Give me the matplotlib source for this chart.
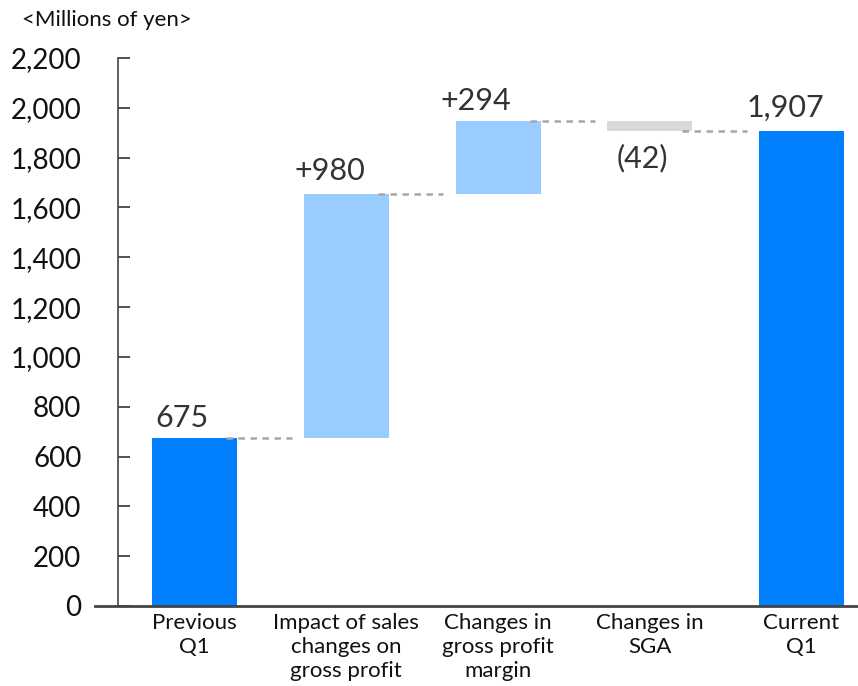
import numpy as np
import matplotlib
matplotlib.use('Agg')
import matplotlib.pyplot as plt

plt.rcParams['font.family'] = ['Lato', 'DejaVu Sans']

# waterfall data, millions of yen
categories = ['Previous\nQ1', 'Impact of sales\nchanges on\ngross profit',
              'Changes in\ngross profit\nmargin', 'Changes in\nSGA', 'Current\nQ1']
start_value = 675
changes = [980, 294, -42]
end_value = 1907
value_labels = ['675', '+980', '+294', '(42)', '1,907']
yticks = np.arange(0, 2201, 200)

dark_blue = '#0080FF'
light_blue = '#99CCFF'
gray_bar = '#D9D9D9'
text_col = '#333333'

# bottoms and heights of each bar
levels = [start_value]
for c in changes:
    levels.append(levels[-1] + c)
bottoms = [0]
heights = [start_value]
for i, c in enumerate(changes):
    bottoms.append(min(levels[i], levels[i + 1]))
    heights.append(abs(c))
bottoms.append(0)
heights.append(end_value)
colors = [dark_blue] + [light_blue if c > 0 else gray_bar for c in changes] + [dark_blue]

fig = plt.figure(figsize=(8.58, 6.86), dpi=100)
ax = fig.add_axes([95 / 858, 80 / 686, 763 / 858, 548 / 686])

x = np.arange(len(categories))
w = 0.56
ax.bar(x, heights, w, bottom=bottoms, color=colors, zorder=2)

# dashed connectors between bars
for i in range(len(categories) - 1):
    y = levels[i] if i < len(levels) else end_value
    ax.plot([x[i] + w / 2 - 0.07, x[i + 1] - w / 2 - 0.08], [y, y],
            color='#A6A6A6', lw=1.8, ls=(0, (2.6, 2.2)), zorder=3)

# value labels
label_x = [-0.26, 0.66, 1.62, 2.78, 3.64]
label_y = [700, 1690, 1970, 1740, 1945]
for i in range(len(categories)):
    ax.text(label_x[i], label_y[i], value_labels[i], fontsize=22,
            color=text_col, ha='left', va='bottom')

for s in ['top', 'right']:
    ax.spines[s].set_visible(False)
ax.spines['left'].set_position(('data', -0.507))
ax.spines['left'].set_color('#444444')
ax.spines['left'].set_linewidth(1.2)
ax.spines['bottom'].set_color('#444444')
ax.spines['bottom'].set_linewidth(2)

ax.set_xlim(-0.656, 4.372)
ax.set_ylim(0, 2200)
ax.set_yticks(yticks)
ax.set_yticklabels([f'{v:,}' for v in yticks])
ax.set_xticks(x)
ax.set_xticklabels(categories, linespacing=1.25)
ax.tick_params(axis='x', length=0, pad=5, labelsize=16, labelcolor='#111111')
ax.tick_params(axis='y', direction='in', length=8.5, width=1.2, color='#333333',
               pad=26, labelsize=20, labelcolor='#111111')

fig.text(22 / 858, 1 - 20 / 686, '<Millions of yen>', fontsize=16, color='#111111',
         ha='left', va='center')

fig.savefig('out.png', dpi=100)
